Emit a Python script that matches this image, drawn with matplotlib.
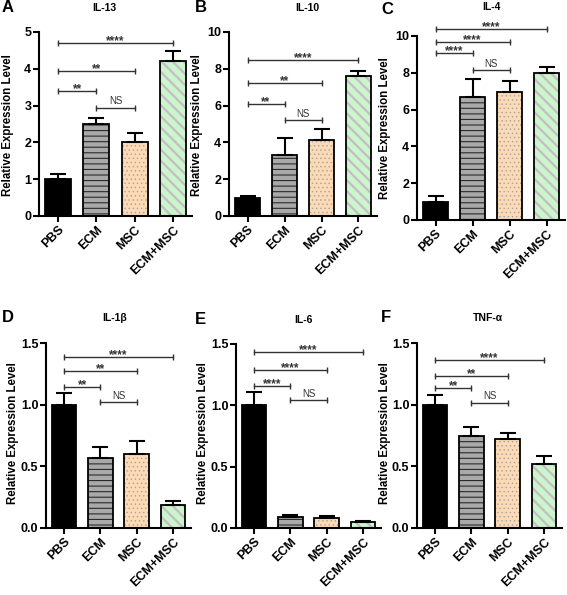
import matplotlib
matplotlib.use('Agg')
import matplotlib.pyplot as plt
import numpy as np

# =============================================================================
# data
# =============================================================================
CATS = ['PBS', 'ECM', 'MSC', 'ECM+MSC']

IL13_MEAN = [1.0, 2.5, 2.0, 4.2]
IL13_ERR = [0.13, 0.15, 0.25, 0.29]
IL10_MEAN = [1.0, 3.3, 4.15, 7.6]
IL10_ERR = [0.1, 0.95, 0.6, 0.3]
IL4_MEAN = [1.0, 6.7, 6.95, 8.0]
IL4_ERR = [0.3, 0.95, 0.6, 0.3]
IL1B_MEAN = [1.0, 0.57, 0.6, 0.19]
IL1B_ERR = [0.095, 0.085, 0.105, 0.03]
IL6_MEAN = [1.0, 0.09, 0.08, 0.05]
IL6_ERR = [0.11, 0.017, 0.016, 0.01]
TNF_MEAN = [1.0, 0.75, 0.72, 0.52]
TNF_ERR = [0.075, 0.068, 0.05, 0.06]

PAIRS = [(0, 3), (0, 2), (0, 1), (1, 2)]
IL13_SIG_Y = [4.71, 3.94, 3.40, 2.94]
IL10_SIG_Y = [8.46, 7.23, 6.06, 5.21]
IL4_SIG_Y = [10.38, 9.69, 9.06, 8.15]
IL1B_SIG_Y = [1.386, 1.276, 1.143, 1.02]
IL6_SIG_Y = [1.435, 1.29, 1.16, 1.04]
TNF_SIG_Y = [1.364, 1.234, 1.134, 1.017]
SIG_2 = ['****', '**', '**', 'NS']
SIG_4 = ['****', '****', '****', 'NS']

# =============================================================================
# style
# =============================================================================
W, H = 567, 595
plt.rcParams['font.family'] = ['Liberation Sans', 'DejaVu Sans']

FILLS = ['black', '#a9a9a9', '#fcdab6', '#cbf6cb']
HATCH_COLORS = ['black', '#2a2a2a', '#a8a29c', '#c6bcc6']
HATCHES = ['', '---', '....', '\\\\\\']
HATCH_LW = [0.5, 0.8, 0.5, 1.6]


def fx(x):
    return x / W


def fy(y):
    return 1 - y / H


def panel(fig, box, mean, err, ylim, yticks, ytl, sig_y, sig_lab,
          letter, letter_xy, title, title_xy, ylab_xy):
    left, right, top, bottom = box
    ax = fig.add_axes([fx(left), fy(bottom), (right - left) / W,
                       (bottom - top) / H])
    x = np.arange(len(CATS))
    for i in range(len(CATS)):
        b = ax.bar(x[i], mean[i], width=0.68, color=FILLS[i],
                   edgecolor=HATCH_COLORS[i], linewidth=0,
                   hatch=HATCHES[i] or None, zorder=2)
        for p in b:
            if hasattr(p, 'set_hatch_linewidth'):
                p.set_hatch_linewidth(HATCH_LW[i])
        ax.bar(x[i], mean[i], width=0.68, fill=False, edgecolor='black',
               linewidth=1.3, zorder=3)
    ax.errorbar(x, mean, yerr=[np.zeros(len(mean)), err], fmt='none',
                ecolor='black', elinewidth=1.5, capsize=5.5, capthick=1.5,
                zorder=4)
    for (i, j), yy, lab in zip(PAIRS, sig_y, sig_lab):
        ax.plot([x[i], x[j]], [yy, yy], color='#333333', lw=1.0,
                marker='|', markersize=5, mew=1.0, clip_on=False, zorder=5)
        if lab == 'NS':
            ax.annotate(lab, ((x[i] + x[j]) / 2, yy), xytext=(0, 2.5),
                        textcoords='offset points', ha='center',
                        va='baseline', fontsize=7, color='#333333',
                        annotation_clip=False)
        else:
            ax.annotate(lab, ((x[i] + x[j]) / 2, yy), xytext=(0, -0.8),
                        textcoords='offset points', ha='center',
                        va='baseline', fontsize=8.5, fontweight='bold',
                        color='#333333', annotation_clip=False)
    ax.set_xlim(-0.5, 3.5)
    ax.set_ylim(*ylim)
    ax.set_yticks(yticks)
    ax.set_yticklabels(ytl, fontsize=9, fontweight='bold')
    ax.set_xticks(x)
    ax.set_xticklabels(CATS, rotation=45, ha='right',
                       rotation_mode='anchor', fontsize=9, fontweight='bold')
    for s in ['top', 'right']:
        ax.spines[s].set_visible(False)
    for s in ['left', 'bottom']:
        ax.spines[s].set_linewidth(1.5)
    ax.tick_params(axis='both', width=1.5, length=4, pad=1.5)
    fig.text(fx(letter_xy[0]), fy(letter_xy[1]), letter, fontsize=12,
             fontweight='bold', ha='left', va='center')
    fig.text(fx(title_xy[0]), fy(title_xy[1]), title, fontsize=7.5,
             fontweight='bold', ha='center', va='center')
    fig.text(fx(ylab_xy[0]), fy(ylab_xy[1]), 'Relative Expression Level',
             fontsize=8.3, fontweight='bold', rotation=90, ha='center',
             va='center')
    return ax


fig = plt.figure(figsize=(W / 100, H / 100), dpi=100)

panel(fig, (39, 192, 32, 216), IL13_MEAN, IL13_ERR, (0, 5),
      [0, 1, 2, 3, 4, 5], ['0', '1', '2', '3', '4', '5'],
      IL13_SIG_Y, SIG_2, 'A', (2, 8), 'IL-13', (104, 8), (8, 125))
panel(fig, (229, 377, 32, 216), IL10_MEAN, IL10_ERR, (0, 10),
      [0, 2, 4, 6, 8, 10], ['0', '2', '4', '6', '8', '10'],
      IL10_SIG_Y, SIG_2, 'B', (195, 8), 'IL-10', (307, 8), (197, 125))
panel(fig, (417, 565, 36, 220), IL4_MEAN, IL4_ERR, (0, 10),
      [0, 2, 4, 6, 8, 10], ['0', '2', '4', '6', '8', '10'],
      IL4_SIG_Y, SIG_4, 'C', (381, 10), 'IL-4', (491, 7), (385, 128))
panel(fig, (46, 191, 343, 528), IL1B_MEAN, IL1B_ERR, (0, 1.5),
      [0, 0.5, 1.0, 1.5], ['0.0', '0.5', '1.0', '1.5'],
      IL1B_SIG_Y, SIG_2, 'D', (2, 317), 'IL-1β', (115, 318), (13, 433))
panel(fig, (236, 381, 344, 528), IL6_MEAN, IL6_ERR, (0, 1.5),
      [0, 0.5, 1.0, 1.5], ['0.0', '0.5', '1.0', '1.5'],
      IL6_SIG_Y, SIG_4, 'E', (195, 319), 'IL-6', (303, 320), (203, 433))
panel(fig, (417, 562, 343, 528), TNF_MEAN, TNF_ERR, (0, 1.5),
      [0, 0.5, 1.0, 1.5], ['0.0', '0.5', '1.0', '1.5'],
      TNF_SIG_Y, SIG_2, 'F', (381, 317), 'TNF-α', (488, 318), (385, 433))

fig.savefig('out.png', dpi=100)
